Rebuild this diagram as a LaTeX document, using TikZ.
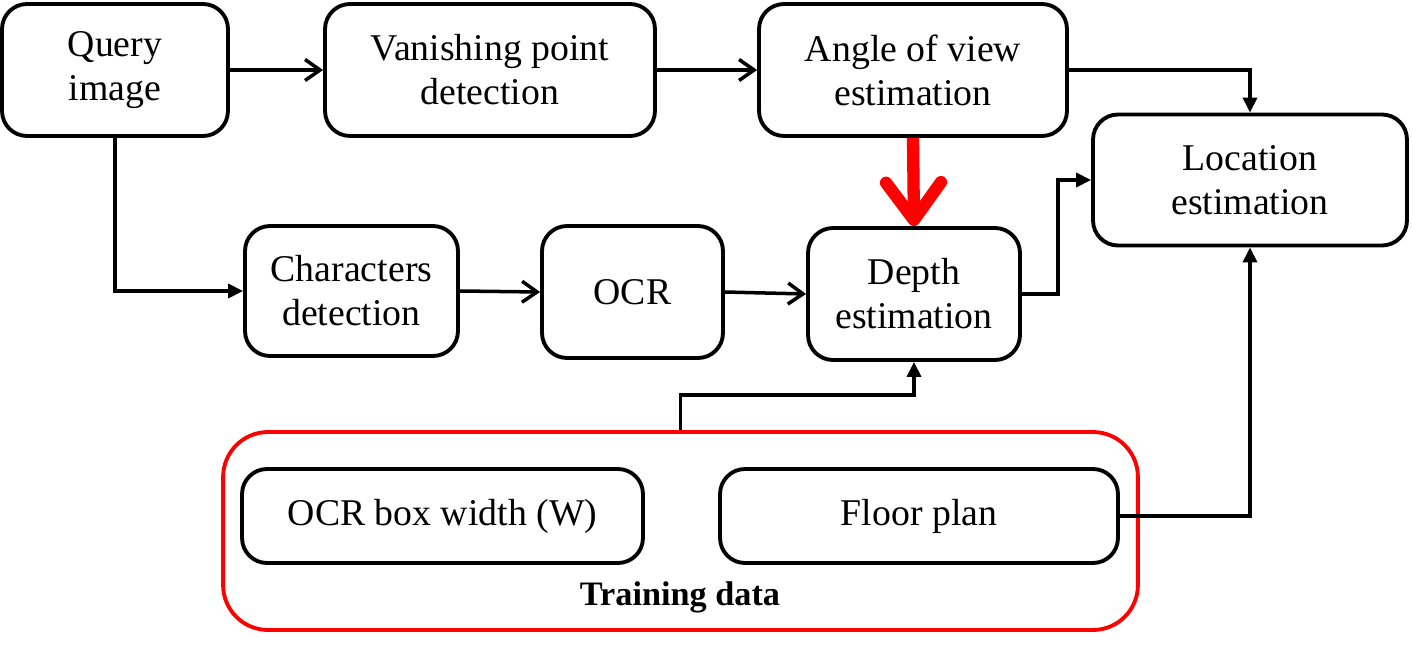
\documentclass[tikz,border=0pt]{standalone}
\usepackage{fontspec}
\setmainfont{Liberation Serif}
\usetikzlibrary{arrows.meta}

\tikzset{
    stage/.style={draw, line width=2.2pt, rounded corners=0.5cm, align=center,
        inner sep=0pt, font=\fontsize{21.5}{25}\selectfont},
    flow/.style={line width=2pt, -{Straight Barb[length=0.3cm, width=0.42cm]}},
    elbow/.style={line width=2pt, -{Triangle[length=0.3cm, width=0.28cm]}}
}

\begin{document}
\begin{tikzpicture}[x=0.02cm, y=-0.02cm]
    \useasboundingbox (0,0) rectangle (1413,669);

    % top row
    \node[stage, minimum width=4.52cm, minimum height=2.64cm] (query) at (115,70) {Query\\image};
    \node[stage, minimum width=6.6cm, minimum height=2.64cm] (vanish) at (490,70) {Vanishing point\\detection};
    \node[stage, minimum width=6.16cm, minimum height=2.64cm] (angle) at (913,70) {Angle of view\\estimation};
    \node[stage, minimum width=6.28cm, minimum height=2.62cm] (location) at (1250,180) {Location\\estimation};

    % middle row
    \node[stage, minimum width=4.26cm, minimum height=2.6cm] (chars) at (351.5,291) {Characters\\detection};
    \node[stage, minimum width=3.62cm, minimum height=2.64cm] (ocr) at (632.5,292) {OCR};
    \node[stage, minimum width=4.24cm, minimum height=2.64cm] (depth) at (914,294) {Depth\\estimation};

    % training data
    \node[draw=red, line width=2.2pt, rounded corners=0.9cm, minimum width=18.3cm, minimum height=3.96cm] (train) at (680.5,531) {};
    \node[stage, minimum width=8.02cm, minimum height=1.88cm] (boxwidth) at (442.5,516) {OCR box width (W)};
    \node[stage, minimum width=7.96cm, minimum height=1.88cm] (floor) at (919,516) {Floor plan};
    \node[font=\fontsize{19.5}{23}\selectfont\bfseries] (trainlabel) at (680,597) {Training data};

    \draw[flow] (query.east) -- (vanish.west);
    \draw[flow] (vanish.east) -- (angle.west);
    \draw[flow] (chars.east) -- (ocr.west);
    \draw[flow] (ocr.east) -- (depth.west);

    \draw[elbow] (angle.east) -| (location.north);
    \draw[elbow] (query.south) |- (chars.west);
    \draw[elbow] (depth.east) -- ++(36,0) |- (location.west);
    \draw[elbow] (train.north) -- ++(0,-35) -| (depth.south);
    \draw[elbow] (floor.east) -| (location.south);

    \draw[red, line width=7pt, -{Straight Barb[length=0.75cm, width=1.1cm, line cap=round, line join=round]}]
        (angle.south) -- (depth.north);
\end{tikzpicture}
\end{document}
